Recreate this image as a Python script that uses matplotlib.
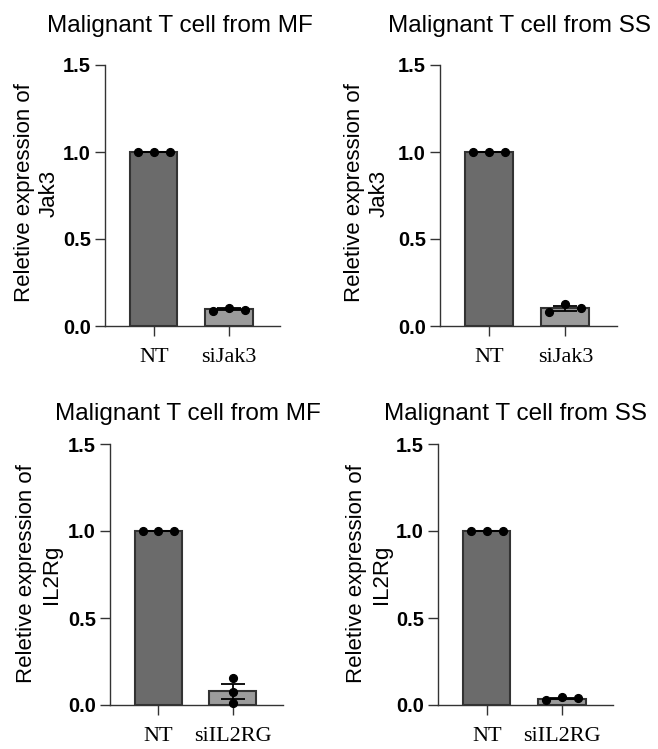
import numpy as np
import matplotlib
matplotlib.use("Agg")
import matplotlib.pyplot as plt

# ---------------- data ----------------
titles = ["Malignant T cell from MF", "Malignant T cell from SS",
          "Malignant T cell from MF", "Malignant T cell from SS"]
ylabels = ["Reletive expression of\nJak3", "Reletive expression of\nJak3",
           "Reletive expression of\nIL2Rg", "Reletive expression of\nIL2Rg"]
categories_jak3 = ["NT", "siJak3"]
categories_il2rg = ["NT", "siIL2RG"]

mf_jak3_nt = [1.0, 1.0, 1.0]
mf_jak3_si = [0.086, 0.106, 0.094]
ss_jak3_nt = [1.0, 1.0, 1.0]
ss_jak3_si = [0.079, 0.125, 0.102]
mf_il2rg_nt = [1.0, 1.0, 1.0]
mf_il2rg_si = [0.153, 0.073, 0.010]
ss_il2rg_nt = [1.0, 1.0, 1.0]
ss_il2rg_si = [0.029, 0.044, 0.038]

yticks = [0.0, 0.5, 1.0, 1.5]
ytick_labels = ["0.0", "0.5", "1.0", "1.5"]

panels = [
    (categories_jak3, mf_jak3_nt, mf_jak3_si),
    (categories_jak3, ss_jak3_nt, ss_jak3_si),
    (categories_il2rg, mf_il2rg_nt, mf_il2rg_si),
    (categories_il2rg, ss_il2rg_nt, ss_il2rg_si),
]

# ---------------- layout (pixels) ----------------
W, H = 658, 749
fig = plt.figure(figsize=(W / 100, H / 100), dpi=100)

axes_px = [(105, 65, 175, 261), (440, 65, 177, 261),
           (110, 444, 173, 261), (438, 444, 175, 261)]
title_px = [(180, 32), (519, 32), (188, 420), (516, 420)]
ylabel_px = [(37, 193), (367, 193), (39, 574), (369, 574)]

bar_colors = ["#6b6b6b", "#9b9b9b"]
sans = "Liberation Sans"
serif = "Liberation Serif"

for i, (cats, nt, si) in enumerate(panels):
    l, t, w, h = axes_px[i]
    ax = fig.add_axes([l / W, 1 - (t + h) / H, w / W, h / H])
    groups = [np.array(nt), np.array(si)]
    means = [g.mean() for g in groups]
    sems = [g.std(ddof=1) / np.sqrt(len(g)) for g in groups]
    x = np.arange(len(cats))
    ax.bar(x, means, width=0.63, color=bar_colors, edgecolor="#333333",
           linewidth=1.5, zorder=2)
    ax.errorbar(x, means, yerr=sems, fmt="none", ecolor="black",
                elinewidth=1.3, capsize=8.5, capthick=1.3, zorder=3)
    for xi, g in zip(x, groups):
        if g.max() - g.min() < 0.06:
            offs = np.array([-0.21, 0.0, 0.21])
        else:
            offs = np.zeros(len(g))
        ax.plot(xi + offs, g, "o", color="black", markersize=5.6,
                zorder=4, clip_on=False)

    ax.set_xlim(-0.65, 1.68)
    ax.set_ylim(0, 1.5)
    ax.set_xticks(x)
    ax.set_xticklabels(cats, fontsize=16, family=serif)
    ax.set_yticks(yticks)
    ax.set_yticklabels(ytick_labels, fontsize=14.5, family=sans,
                       fontweight="bold")
    ax.tick_params(axis="x", length=7, width=1.0, pad=9, color="#333333")
    ax.tick_params(axis="y", length=7, width=1.0, pad=3, color="#333333")
    for s in ["top", "right"]:
        ax.spines[s].set_visible(False)
    for s in ["left", "bottom"]:
        ax.spines[s].set_linewidth(1.0)
        ax.spines[s].set_color("#333333")

    tx, ty = title_px[i]
    fig.text(tx / W, 1 - ty / H, titles[i], ha="center", va="baseline",
             fontsize=17.5, family=sans)
    lx, ly = ylabel_px[i]
    fig.text(lx / W, 1 - ly / H, ylabels[i], ha="center", va="center",
             rotation=90, fontsize=16, family=sans, multialignment="center",
             linespacing=1.2)

fig.savefig("out.png", dpi=100)
